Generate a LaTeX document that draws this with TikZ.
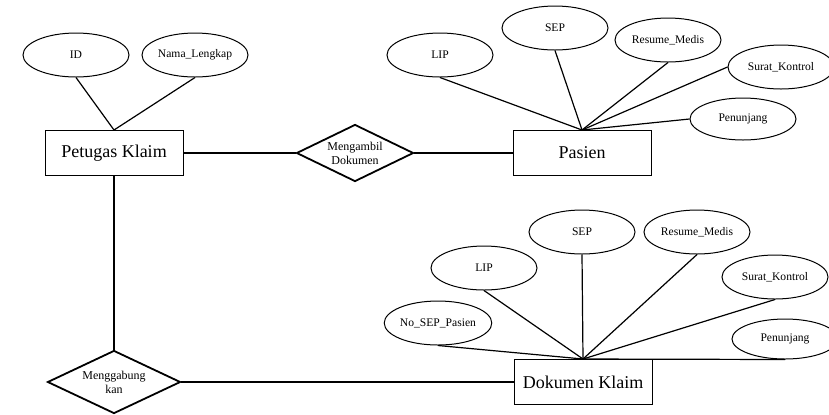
\documentclass[tikz,border=0pt]{standalone}
\usepackage{fontspec}
\setmainfont{Liberation Serif}
\usetikzlibrary{shapes,arrows}
\tikzstyle{entity} = [rectangle, draw, line width=0.5pt, text centered, minimum width=69pt,
minimum height=22.5pt, inner sep=0pt, font=\fontsize{9}{10}\selectfont]
\tikzstyle{relation} = [diamond, draw, line width=0.9pt, aspect=2, inner sep=0pt, align=center,
font=\fontsize{6}{7}\selectfont]
\tikzstyle{attribute} = [ellipse, draw, line width=0.5pt, minimum width=53pt, minimum height=22pt,
inner sep=0pt, font=\fontsize{5.8}{7}\selectfont]
\tikzstyle{line} = [draw, line width=0.6pt]

\begin{document}
\begin{tikzpicture}[x=0.5pt, y=-0.5pt, node distance=120.5pt]
		\useasboundingbox (0,0) rectangle (829,414);
		\node [entity] (petugas) at (114,153) {Petugas Klaim};
		\node [relation, right of=petugas, minimum width=58.5pt, minimum height=28.5pt] (ambil) {Mengambil\\Dokumen};
		\node [entity, right of=ambil, node distance=113.5pt] (pasien) {Pasien};
		\node [relation, below of=petugas, node distance=114.5pt, minimum width=66.5pt, minimum height=31.5pt] (gabung) {Menggabung\\kan};
		\node [entity, right of=gabung, node distance=234.5pt] (dokumen) {Dokumen Klaim};
		% attributes of Petugas Klaim
		\node [attribute] (id) at (76,55) {ID};
		\node [attribute] (nama) at (195,55) {Nama\_Lengkap};
		% attributes of Pasien
		\node [attribute] (lip) at (440,55) {LIP};
		\node [attribute] (sep) at (555,28) {SEP};
		\node [attribute] (resume) at (668,40) {Resume\_Medis};
		\node [attribute] (surat) at (781,67) {Surat\_Kontrol};
		\node [attribute, minimum height=21pt] (penunjang) at (743,119) {Penunjang};
		% attributes of Dokumen Klaim
		\node [attribute] (nosep) at (438,323) {No\_SEP\_Pasien};
		\node [attribute] (diplip) at (484,268) {LIP};
		\node [attribute] (dipsep) at (582,232) {SEP};
		\node [attribute] (dipresume) at (697,232) {Resume\_Medis};
		\node [attribute] (dipsurat) at (775,277) {Surat\_Kontrol};
		\node [attribute, minimum height=20pt] (dippenunjang) at (785,339) {Penunjang};
		\path [line] (petugas) -- (ambil);
		\path [line] (ambil) -- (pasien);
		\path [line] (petugas) -- (gabung);
		\path [line] (gabung) -- (dokumen);
		\path [line] (id.south) -- (petugas.north);
		\path [line] (nama.south) -- (petugas.north);
		\path [line] (lip.south) -- (pasien.north);
		\path [line] (sep.south) -- (pasien.north);
		\path [line] (resume.south) -- (pasien.north);
		\path [line] (surat.west) -- (pasien.north);
		\path [line] (penunjang.west) -- (pasien.north);
		\path [line] (nosep.south) -- (dokumen.north);
		\path [line] (diplip.south) -- (dokumen.north);
		\path [line] (dipsep.south) -- (dokumen.north);
		\path [line] (dipresume.south) -- (dokumen.north);
		\path [line] (dipsurat.south) -- (dokumen.north);
		\path [line] (dippenunjang.south) -- (dokumen.north);
	\end{tikzpicture}
\end{document}
